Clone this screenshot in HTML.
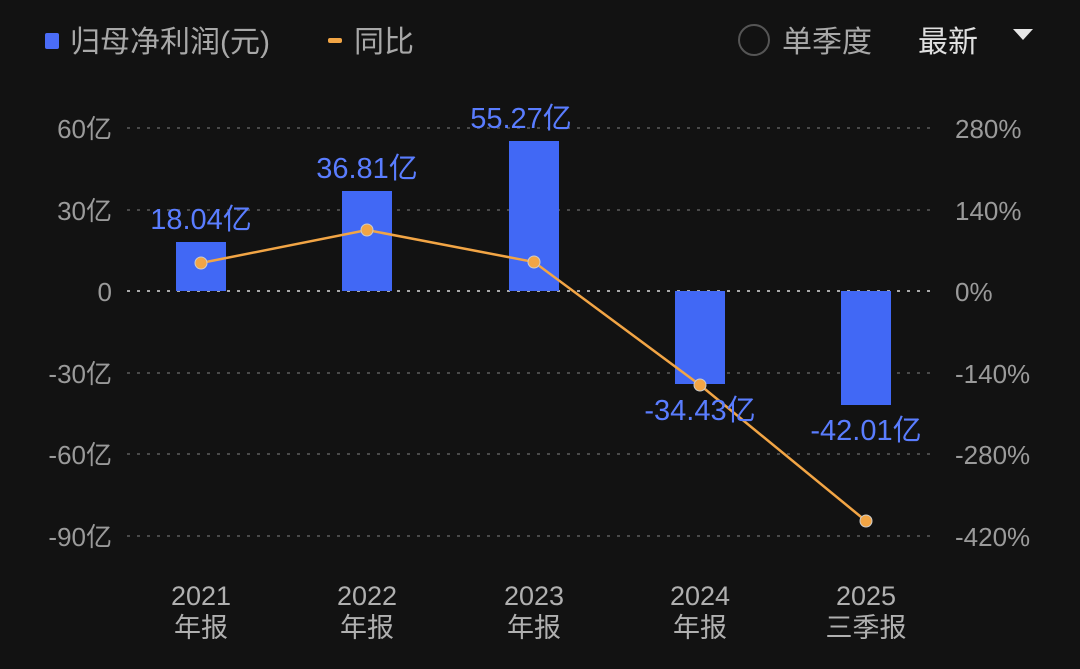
<!DOCTYPE html>
<html><head><meta charset="utf-8"><style>
html,body{margin:0;padding:0;background:#121212;}
svg{display:block;font-family:"Liberation Sans","Noto Sans CJK SC",sans-serif;}
</style></head><body>
<svg width="1080" height="669" viewBox="0 0 1080 669">
<rect width="1080" height="669" fill="#121212"/>
<rect x="45" y="33" width="14" height="16" rx="2" fill="#4a6cf7"/>
<text x="70" y="52" font-size="30" fill="#a8a8a8">归母净利润(元)</text>
<rect x="328" y="38" width="14" height="5" rx="2" fill="#f2a545"/>
<text x="354" y="52" font-size="30" fill="#a8a8a8">同比</text>
<circle cx="754" cy="40" r="15" fill="none" stroke="#555" stroke-width="2"/>
<text x="782" y="52" font-size="30" fill="#a8a8a8">单季度</text>
<text x="918" y="52" font-size="30" fill="#e0e0e0">最新</text>
<polygon points="1013,29 1033,29 1023,40" fill="#e6e6e6"/>
<g stroke="#4a4a4a" stroke-width="2" stroke-dasharray="3,7">
<line x1="127" y1="128" x2="935" y2="128"/>
<line x1="127" y1="210" x2="935" y2="210"/>
<line x1="127" y1="373" x2="935" y2="373"/>
<line x1="127" y1="454" x2="935" y2="454"/>
<line x1="127" y1="536" x2="935" y2="536"/>
</g>
<line x1="127" y1="291" x2="935" y2="291" stroke="#aaa" stroke-width="2" stroke-dasharray="3,7"/>
<g font-size="26" fill="#9a9a9a" text-anchor="end">
<text x="112" y="138">60亿</text>
<text x="112" y="220">30亿</text>
<text x="112" y="301">0</text>
<text x="112" y="383">-30亿</text>
<text x="112" y="464">-60亿</text>
<text x="112" y="546">-90亿</text>
</g>
<g font-size="26" fill="#9a9a9a">
<text x="955" y="138">280%</text>
<text x="955" y="220">140%</text>
<text x="955" y="301">0%</text>
<text x="955" y="383">-140%</text>
<text x="955" y="464">-280%</text>
<text x="955" y="546">-420%</text>
</g>
<g fill="#4168f5">
<rect x="176" y="242" width="50" height="49"/>
<rect x="342" y="191" width="50" height="100"/>
<rect x="509" y="141" width="50" height="150"/>
<rect x="675" y="291" width="50" height="93"/>
<rect x="841" y="291" width="50" height="114"/>
</g>
<polyline points="201,263 367,230 534,262 700,385 866,521" fill="none" stroke="#f2a545" stroke-width="2.5"/>
<g fill="#f2a545" stroke="#ccc" stroke-width="1">
<circle cx="201" cy="263" r="6"/><circle cx="367" cy="230" r="6"/><circle cx="534" cy="262" r="6"/><circle cx="700" cy="385" r="6"/><circle cx="866" cy="521" r="6"/>
</g>
<g font-size="29" fill="#5a7dff" text-anchor="middle">
<text x="201" y="229">18.04亿</text>
<text x="367" y="178">36.81亿</text>
<text x="521" y="128">55.27亿</text>
<text x="700" y="420">-34.43亿</text>
<text x="866" y="440">-42.01亿</text>
</g>
<g font-size="27" fill="#b0b0b0" text-anchor="middle">
<text x="201" y="605">2021</text><text x="201" y="637">年报</text>
<text x="367" y="605">2022</text><text x="367" y="637">年报</text>
<text x="534" y="605">2023</text><text x="534" y="637">年报</text>
<text x="700" y="605">2024</text><text x="700" y="637">年报</text>
<text x="866" y="605">2025</text><text x="866" y="637">三季报</text>
</g>
</svg>
</body></html>
